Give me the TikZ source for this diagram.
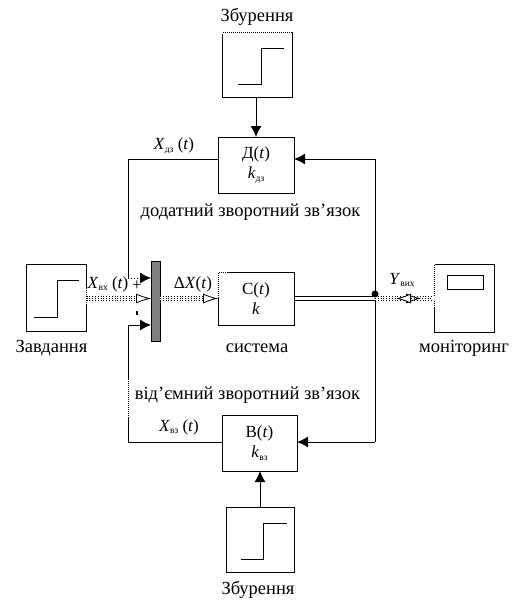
\documentclass[tikz,border=0pt]{standalone}
\usepackage{fontspec}
\setmainfont{Liberation Serif}
\usetikzlibrary{arrows.meta}
\tikzset{
  x=1pt,y=-1pt,
  box/.style={draw=black,fill=white,line width=1pt,inner sep=0pt,outer sep=0pt,anchor=north west},
  signal/.style={line width=1pt},
  fb/.style={line width=1pt},
  head/.style={-{Latex[length=11pt,width=11pt]}},
  hollow/.style={-{Latex[open,fill=white,length=15pt,width=10pt]},line width=0.8pt,dotted},
  lbl/.style={font=\fontsize{18.5}{20}\selectfont,inner sep=0pt},
  mlbl/.style={font=\fontsize{17}{19}\selectfont,inner sep=0pt},
  gapdots/.style={white,line width=1.1pt,dash pattern=on 1pt off 1pt},
}
\newcommand{\sbs}[1]{\raisebox{-0.3ex}{\fontsize{9.5}{11}\selectfont #1}}
\begin{document}
\begin{tikzpicture}
\useasboundingbox (0,0) rectangle (524,615);
% boxes
\node[box,minimum width=60pt,minimum height=67pt] (task) at (26.5,264) {};
\node[box,minimum width=70pt,minimum height=65pt] (stepT) at (222,33) {};
\node[box,minimum width=68pt,minimum height=65pt] (stepB) at (226,507) {};
\node[box,minimum width=76pt,minimum height=56pt,align=center] (D) at (218,137) {};
\node[box,minimum width=75pt,minimum height=56pt,align=center] (B) at (222,415) {};
\node[box,minimum width=76pt,minimum height=53pt,align=center] (C) at (218,272) {};
\node[box,minimum width=60pt,minimum height=68pt] (mon) at (434,264) {};
\node[box,minimum width=36pt,minimum height=14pt] (screen) at (447,275) {};
\node[draw=black,fill=black!50,line width=1pt,minimum width=9pt,minimum height=80pt,inner sep=0pt,outer sep=0pt,anchor=north west] (bar) at (151,261) {};
% step signals
\draw[signal] (34,317) -- (57,317) -- (57,280) -- (79,280);
\draw[signal] (238,85) -- (261,85) -- (261,49) -- (284,49);
\draw[signal] (241,559) -- (263,559) -- (263,523) -- (287,523);
% coordinates
\coordinate (Dr) at (294,159);
\coordinate (Dl) at (218,159);
\coordinate (Bl) at (222,442);
\coordinate (Br) at (297,442);
\coordinate (tl) at (128,159);
\coordinate (tb) at (128,278);
\coordinate (bl) at (128,442);
\coordinate (bb) at (128,325);
\coordinate (tr) at (375,159);
\coordinate (br) at (375,442);
\coordinate (jn) at (375,294);
\coordinate (barTop) at (151,278);
\coordinate (barBot) at (151,325);
% feedback
\draw[fb] (Dl) -- (tl) -- (tb);
\draw[fb,dotted,head] (tb) -- (barTop);
\draw[fb] (Bl) -- (bl) -- (bb);
\draw[fb,head] (bb) -- (barBot);
\draw[fb,head] (tr) -- (Dr);
\draw[fb,head] (br) -- (Br);
\draw[fb] (tr) -- (br);
\draw[fb,head] (D.north |- stepT.south) -- (D.north);
\draw[fb,head] (stepB.north) -- (stepB.north |- B.south);
% signal lines
\coordinate (a1) at (86.5,298.5);
\coordinate (a2) at (151,298.5);
\coordinate (c1) at (160,298.5);
\coordinate (c2) at (218,298.5);
\coordinate (o1) at (294,296);
\coordinate (o2) at (375,296);
\coordinate (o3) at (294,300.5);
\coordinate (o4) at (375,300.5);
\coordinate (m1) at (375,298.5);
\coordinate (m2) at (434,298.5);
\coordinate (m3) at (396,298.5);
\coordinate (m4) at (421,298.5);
\draw[line width=0.8pt,dotted,double,double distance=2.6pt] (a1) -- ([xshift=-14pt]a2);
\draw[hollow] (a1) -- (a2);
\draw[line width=0.8pt,dotted,double,double distance=2.6pt] (c1) -- ([xshift=-14pt]c2);
\draw[hollow] (c1) -- (c2);
\draw[fb] (o1) -- (o2);
\draw[fb] (o3) -- (o4);
\draw[line width=0.8pt,dotted,double,double distance=2.6pt] (m1) -- (m2);
\draw[hollow] (m1) -- (m4);
\draw[hollow] (m2) -- (m3);
\fill (jn) circle (3.5pt);
% dotted edge parts
\draw[gapdots] (task.north east |- a1) ++(0,-10) -- ++(0,16);
\draw[gapdots] (C.north west) -- ++(0,25);
\draw[gapdots] (C.north west) -- ++(10,0);
\draw[gapdots] (mon.north west) -- ++(0,43);
\draw[gapdots] (stepT.north west) -- (stepT.north east);
\draw[gapdots] (128,380) -- (128,418);
% labels
\node[lbl] (tT) at (257,17) {Збурення};
\node[lbl] (tB) at (258,590) {Збурення};
\node[lbl] (tZ) at (51.5,348) {Завдання};
\node[lbl] (tS) at (257,348) {система};
\node[lbl] (tM) at (464,348) {моніторинг};
\node[lbl] (tP) at (250.5,212) {додатний зворотний зв’язок};
\node[lbl] (tN) at (247.5,395) {від’ємний зворотний зв’язок};
\node[mlbl,align=center] at (D.center) {Д(\textit{t})\\[1pt]\textit{k}\sbs{дз}};
\node[mlbl,align=center] at (B.center) {В(\textit{t})\\[1pt]\textit{k}\sbs{вз}};
\node[mlbl,align=center] at (C.center) {С(\textit{t})\\[1pt]\textit{k}};
\node[mlbl] at (174,146) {\textit{X}\sbs{дз} (\textit{t})};
\node[mlbl] at (179,427) {\textit{X}\sbs{вз} (\textit{t})};
\node[mlbl] at (108,284) {\textit{X}\sbs{вх} (\textit{t})};
\node[mlbl] at (193,284) {Δ\textit{X}(\textit{t})};
\node[mlbl] at (402,280) {\textit{Y}\sbs{вих}};
\node[mlbl] at (137,286) {+};
\fill (135.5,311) rectangle (137.5,315);
\end{tikzpicture}
\end{document}
